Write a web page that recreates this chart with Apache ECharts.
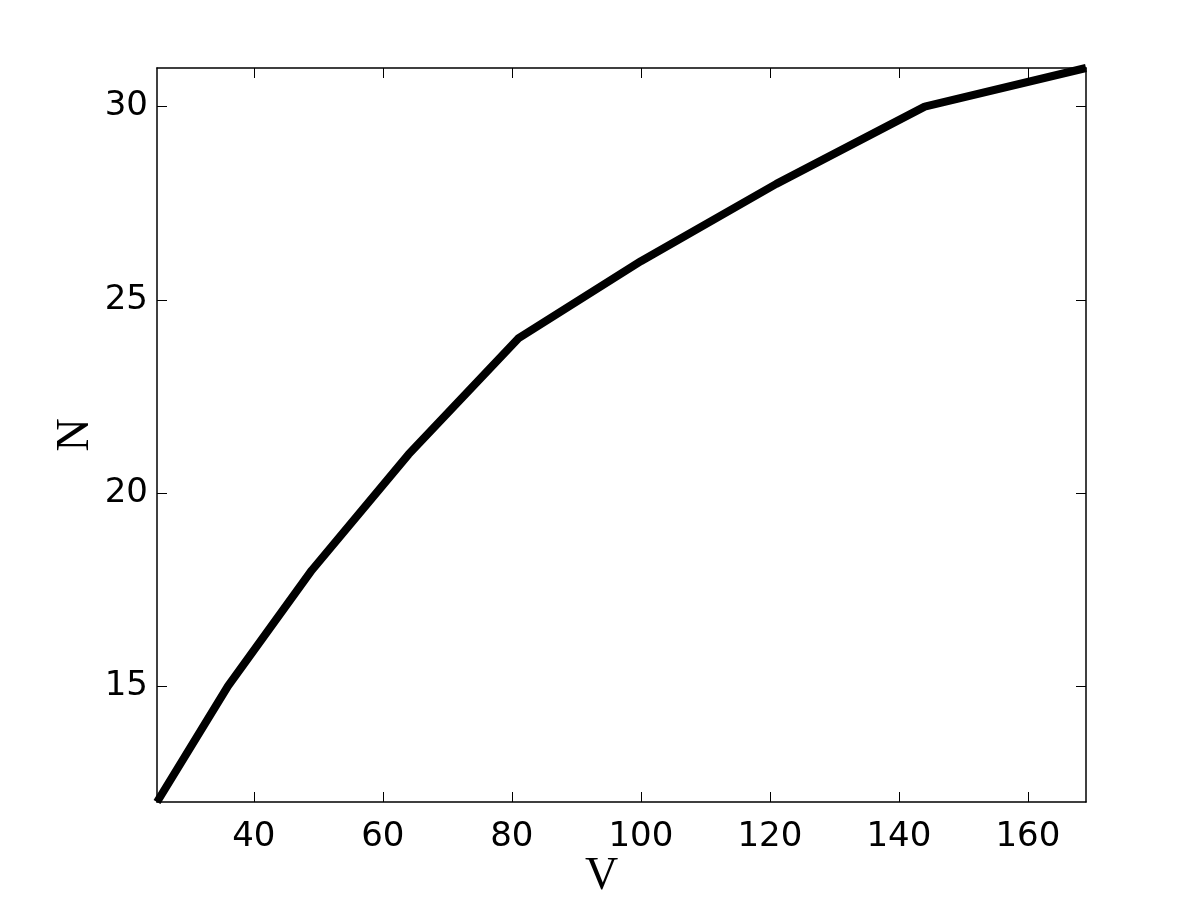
<!DOCTYPE html>
<html>
<head>
<meta charset="utf-8">
<script src="https://cdn.jsdelivr.net/npm/echarts@6/dist/echarts.min.js"></script>
<style>html,body{margin:0;padding:0;background:#fff}#c{width:1200px;height:901px}</style>
</head>
<body>
<div id="c"></div>
<script>
const V = [25, 36, 49, 64, 81, 100, 121, 144, 169];
const N = [12, 15, 18, 21, 24, 26, 28, 30, 31];
const xTicks = [40, 60, 80, 100, 120, 140, 160];
const yTicks = [15, 20, 25, 30];

const chart = echarts.init(document.getElementById('c'));
const lineStyle = {color: '#000', width: 1.5};
const tickCommon = {show: true, inside: true, length: 10, lineStyle: {color: '#000', width: 1}};
function xAxis(pos, labels) {
  return {
    type: 'value', position: pos, min: 25, max: 169,
    axisLine: {show: true, onZero: false, lineStyle: lineStyle},
    axisTick: Object.assign({customValues: xTicks}, tickCommon),
    axisLabel: labels ? {show: true, customValues: xTicks, fontFamily: 'DejaVu Sans', fontSize: 34, color: '#000', margin: 18} : {show: false},
    splitLine: {show: false},
    name: labels ? 'V' : '', nameLocation: 'middle', nameGap: 52, nameMoveOverlap: false,
    nameTextStyle: {fontFamily: 'Liberation Serif', fontSize: 46, color: '#000', padding: [0, 40, 0, 0]}
  };
}
function yAxis(pos, labels) {
  return {
    type: 'value', position: pos, min: 12, max: 31,
    axisLine: {show: true, onZero: false, lineStyle: lineStyle},
    axisTick: Object.assign({customValues: yTicks}, tickCommon),
    axisLabel: labels ? {show: true, customValues: yTicks, fontFamily: 'DejaVu Sans', fontSize: 34, color: '#000', margin: 9} : {show: false},
    splitLine: {show: false},
    name: labels ? 'N' : '', nameLocation: 'middle', nameGap: 58, nameMoveOverlap: false,
    nameTextStyle: {fontFamily: 'Liberation Serif', fontSize: 46, color: '#000'}
  };
}
chart.setOption({
  backgroundColor: '#fff',
  animation: false,
  grid: {left: 157, right: 114, top: 68, bottom: 99, containLabel: false, outerBoundsMode: 'none'},
  xAxis: [xAxis('bottom', true), xAxis('top', false)],
  yAxis: [yAxis('left', true), yAxis('right', false)],
  series: [{
    type: 'line',
    data: V.map((v, i) => [v, N[i]]),
    showSymbol: false,
    symbol: 'none',
    lineStyle: {color: '#000', width: 8, join: 'round', cap: 'butt'},
    clip: true
  }]
});
</script>
</body>
</html>
